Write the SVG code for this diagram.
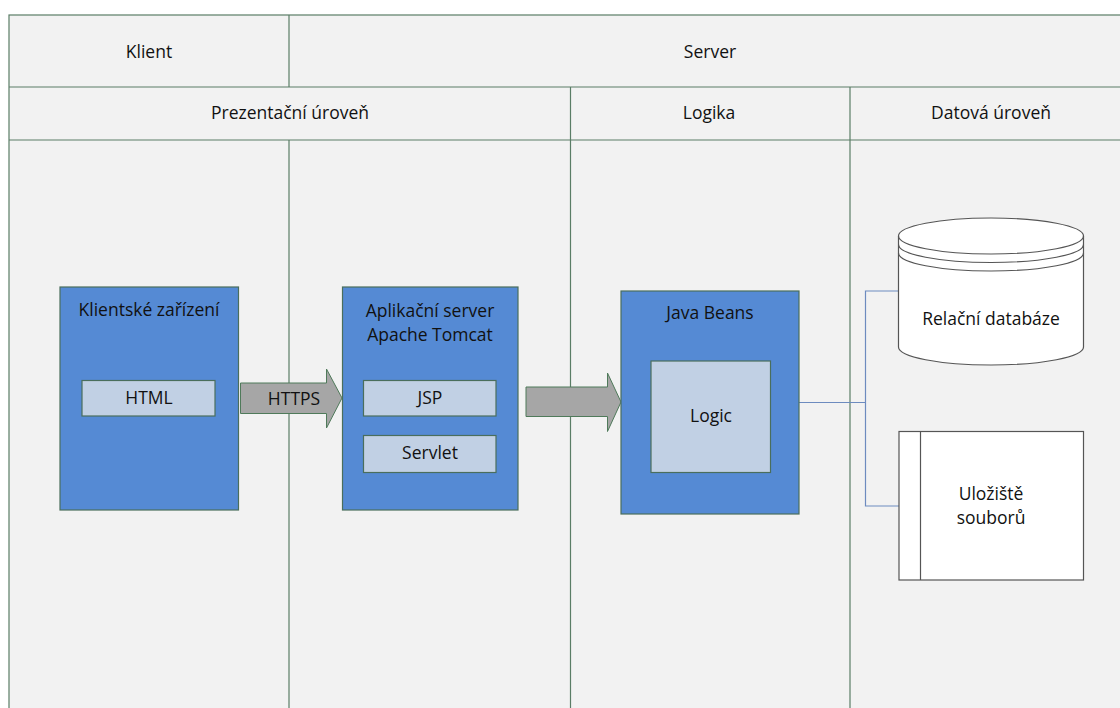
<svg xmlns="http://www.w3.org/2000/svg" width="1120" height="708" viewBox="0 0 1120 708">
<style>
  .lane{fill:#f2f2f2;stroke:#5a7d66;stroke-width:1.2}
  .ln{stroke:#5a7d66;stroke-width:1.2;fill:none}
  .box{fill:#558ad4;stroke:#4a6e5c;stroke-width:1.2}
  .inner{fill:#c1d0e4;stroke:#4a6e5c;stroke-width:1.2}
  .arrow{fill:#a6a6a6;stroke:#4f7a5a;stroke-width:1}
  .store{fill:#ffffff;stroke:#555555;stroke-width:1.2}
  .open{fill:none;stroke:#555555;stroke-width:1.2}
  .conn{stroke:#6d8bbf;stroke-width:1.2;fill:none}
  text{font-family:"Open Sans","Liberation Sans",sans-serif;font-size:17.5px;fill:#111;text-anchor:middle}
</style>
<rect x="0" y="0" width="1120" height="708" fill="#ffffff"/>
<g id="swimlanes">
  <rect class="lane" x="9" y="15" width="1120" height="710"/>
  <line class="ln" x1="9" y1="87" x2="1120" y2="87"/>
  <line class="ln" x1="9" y1="140" x2="1120" y2="140"/>
  <line class="ln" x1="289" y1="15" x2="289" y2="87"/>
  <line class="ln" x1="289" y1="140" x2="289" y2="708"/>
  <line class="ln" x1="570.5" y1="87" x2="570.5" y2="708"/>
  <line class="ln" x1="850" y1="87" x2="850" y2="708"/>
  <text x="149" y="58">Klient</text>
  <text x="710" y="58">Server</text>
  <text x="290" y="119">Prezentační úroveň</text>
  <text x="709" y="119">Logika</text>
  <text x="991" y="119">Datová úroveň</text>
</g>
<g id="connectors">
  <path class="arrow" d="M240.5,383 H326.5 V369 L342,398 L326.5,428 V413.5 H240.5 Z"/>
  <text x="294" y="405">HTTPS</text>
  <path class="arrow" d="M526,387 H607.5 V373 L621,402 L607.5,431.5 V416.5 H526 Z"/>
  <polyline class="conn" points="799,402.5 865.5,402.5"/>
  <polyline class="conn" points="899,291 865.5,291 865.5,506 899,506"/>
</g>
<g id="klientske-zarizeni">
  <rect class="box" x="60" y="287" width="178.5" height="223"/>
  <text x="149" y="316">Klientské zařízení</text>
  <rect class="inner" x="82" y="380.5" width="133" height="35.5"/>
  <text x="149" y="404">HTML</text>
</g>
<g id="aplikacni-server">
  <rect class="box" x="342.5" y="287" width="175.5" height="223"/>
  <text x="430" y="317">Aplikační server</text>
  <text x="430" y="341">Apache Tomcat</text>
  <rect class="inner" x="363.5" y="380.5" width="132.5" height="35.5"/>
  <text x="430" y="404">JSP</text>
  <rect class="inner" x="363.5" y="435.5" width="132.5" height="37"/>
  <text x="430" y="459">Servlet</text>
</g>
<g id="java-beans">
  <rect class="box" x="621" y="291" width="178" height="223"/>
  <text x="710" y="319">Java Beans</text>
  <rect class="inner" x="651" y="361" width="119.5" height="111.5"/>
  <text x="711" y="422">Logic</text>
</g>
<g id="relacni-databaze">
  <path class="store" d="M898.5,236 V347 A92.5,18 0 0 0 1083.5,347 V236 A92.5,18 0 0 0 898.5,236 Z"/>
  <path class="open" d="M898.5,236 A92.5,18 0 0 0 1083.5,236"/>
  <path class="open" d="M898.5,244.5 A92.5,18 0 0 0 1083.5,244.5"/>
  <path class="open" d="M898.5,253 A92.5,18 0 0 0 1083.5,253"/>
  <text x="991" y="325">Relační databáze</text>
</g>
<g id="uloziste-souboru">
  <rect class="store" x="899" y="431.5" width="184.5" height="148.5"/>
  <line class="open" x1="920.5" y1="431.5" x2="920.5" y2="580"/>
  <text x="991" y="500">Uložiště</text>
  <text x="991" y="524">souborů</text>
</g>
</svg>
